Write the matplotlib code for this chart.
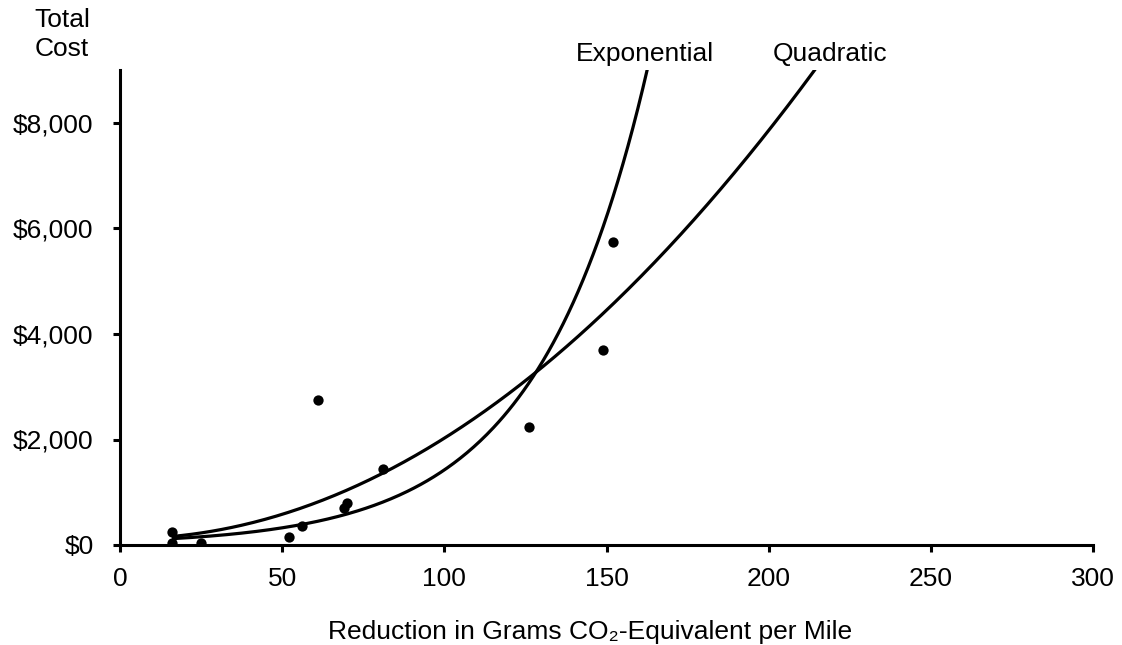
import matplotlib.pyplot as plt
import numpy as np

plt.rcParams['font.family'] = ['Liberation Sans', 'DejaVu Sans']

# observed points
reduction = [16, 16, 25, 52, 56, 61, 69, 70, 81, 126, 149, 152]
cost = [250, 45, 45, 150, 360, 2740, 710, 800, 1450, 2230, 3700, 5750]

# trend lines
quad_coef = [0.1965, -0.61, 121]      # a*x^2 + b*x + c
exp_coef = [74.5, 0.0295]             # A*exp(B*x)
curve_start = 16
curve_end = 220

x_ticks = [0, 50, 100, 150, 200, 250, 300]
y_ticks = [0, 2000, 4000, 6000, 8000]


def main():
    fig = plt.figure(figsize=(11.22, 6.45), dpi=100)
    ax = fig.add_axes([120 / 1122, 1 - 545 / 645, (1093 - 120) / 1122, (545 - 70.25) / 645])

    xs = np.linspace(curve_start, curve_end, 400)
    ax.plot(xs, np.polyval(quad_coef, xs), color='black', lw=2.3, solid_capstyle='butt')
    ax.plot(xs, exp_coef[0] * np.exp(exp_coef[1] * xs), color='black', lw=2.3,
            solid_capstyle='butt')
    ax.scatter(reduction, cost, s=55, color='black', zorder=3, linewidths=0)

    ax.set_xlim(0, 300)
    ax.set_ylim(0, 9000)
    ax.set_xticks(x_ticks)
    ax.set_yticks(y_ticks)
    ax.set_yticklabels(['${:,}'.format(v) for v in y_ticks])

    for side in ['top', 'right']:
        ax.spines[side].set_visible(False)
    for side in ['left', 'bottom']:
        ax.spines[side].set_linewidth(2.2)
    ax.tick_params(axis='both', direction='out', length=5, width=2.2, labelsize=19)
    ax.tick_params(axis='y', pad=14)
    ax.tick_params(axis='x', pad=11)

    ax.text(162, 9090, 'Exponential', ha='center', va='bottom', fontsize=19, clip_on=False)
    ax.text(219, 9090, 'Quadratic', ha='center', va='bottom', fontsize=19, clip_on=False)

    fig.text(62 / 1122, 1 - 20 / 645, 'Total', ha='center', va='center', fontsize=19)
    fig.text(62 / 1122, 1 - 49 / 645, 'Cost', ha='center', va='center', fontsize=19)
    fig.text(590 / 1122, 1 - 632 / 645, 'Reduction in Grams CO\u2082-Equivalent per Mile',
             ha='center', va='center', fontsize=19)

    fig.savefig('out.png', dpi=100)


if __name__ == '__main__':
    main()
